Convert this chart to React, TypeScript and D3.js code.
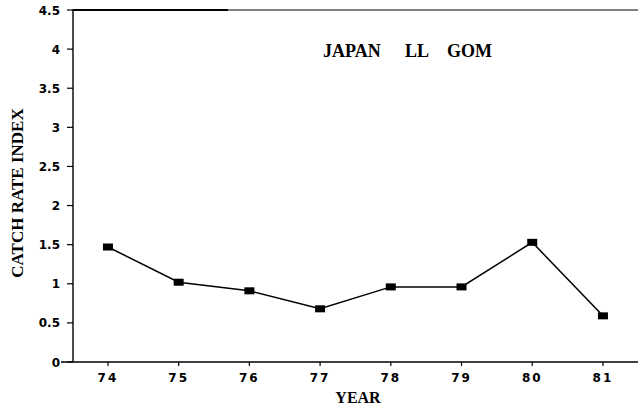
import React from "react";
import * as d3 from "d3";

const years = [74, 75, 76, 77, 78, 79, 80, 81];
const catchRate = [1.47, 1.02, 0.91, 0.68, 0.96, 0.96, 1.53, 0.59];
const yTicks = [0, 0.5, 1, 1.5, 2, 2.5, 3, 3.5, 4, 4.5];
const yTickLabels = ["0", "0.5", "1", "1.5", "2", "2.5", "3", "3.5", "4", "4.5"];
const titleWords = ["JAPAN", "LL", "GOM"];
const xTitle = "YEAR";
const yTitle = "CATCH RATE INDEX";

const W = 638;
const H = 409;

export default function App() {
  const x = d3.scaleLinear().domain([73.5, 81.5]).range([72.6, 638.3]);
  const y = d3.scaleLinear().domain([0, 4.5]).range([362, 10]);
  const line = d3
    .line<number>()
    .x((_, i) => x(years[i]))
    .y((d) => y(d));
  const tickFont = "'DejaVu Sans', sans-serif";
  const serif = "'Liberation Serif', 'DejaVu Serif', serif";
  const titleX = [323, 405, 447];
  return (
    <svg
      width={W}
      height={H}
      style={{ position: "absolute", left: 0, top: 0, background: "#fff" }}
    >
      {/* top border */}
      <line x1={72.6} x2={228} y1={y(4.5)} y2={y(4.5)} stroke="#000" strokeWidth={2.2} />
      <line x1={228} x2={W} y1={y(4.5)} y2={y(4.5)} stroke="#000" strokeWidth={1} />
      {/* y axis */}
      <line x1={73} x2={73} y1={y(4.5)} y2={y(0)} stroke="#000" strokeWidth={1.4} />
      {/* x axis */}
      <line x1={61} x2={W} y1={y(0)} y2={y(0)} stroke="#000" strokeWidth={1.6} />
      {yTicks.map((t, i) => (
        <g key={"y" + i}>
          <line x1={67} x2={73} y1={y(t)} y2={y(t)} stroke="#000" strokeWidth={1.2} />
          <text
            x={60}
            y={y(t) + 4.5}
            textAnchor="end"
            fontFamily={tickFont}
            fontWeight="bold"
            fontSize={12}
            fill="#000"
          >
            {yTickLabels[i]}
          </text>
        </g>
      ))}
      {years.map((yr) => (
        <g key={"x" + yr}>
          <line x1={x(yr)} x2={x(yr)} y1={y(0)} y2={y(0) + 4} stroke="#000" strokeWidth={1.2} />
          <text
            x={x(yr)}
            y={y(0) + 20}
            textAnchor="middle"
            fontFamily={tickFont}
            fontWeight="bold"
            fontSize={12}
            letterSpacing={2}
            fill="#000"
          >
            {String(yr)}
          </text>
        </g>
      ))}
      <path d={line(catchRate) || ""} fill="none" stroke="#000" strokeWidth={1.5} />
      {catchRate.map((v, i) => (
        <rect
          key={"m" + i}
          x={x(years[i]) - 5}
          y={y(v) - 3.5}
          width={10}
          height={7}
          fill="#000"
        />
      ))}
      {titleWords.map((w, i) => (
        <text
          key={"t" + i}
          x={titleX[i]}
          y={57}
          fontFamily={serif}
          fontWeight="bold"
          fontSize={18}
          fill="#000"
        >
          {w}
        </text>
      ))}
      <text
        x={358}
        y={403}
        textAnchor="middle"
        fontFamily={serif}
        fontWeight="bold"
        fontSize={16}
        fill="#000"
      >
        {xTitle}
      </text>
      <text
        transform={`translate(23, 193) rotate(-90)`}
        textAnchor="middle"
        fontFamily={serif}
        fontWeight="bold"
        fontSize={17}
        fill="#000"
      >
        {yTitle}
      </text>
    </svg>
  );
}
